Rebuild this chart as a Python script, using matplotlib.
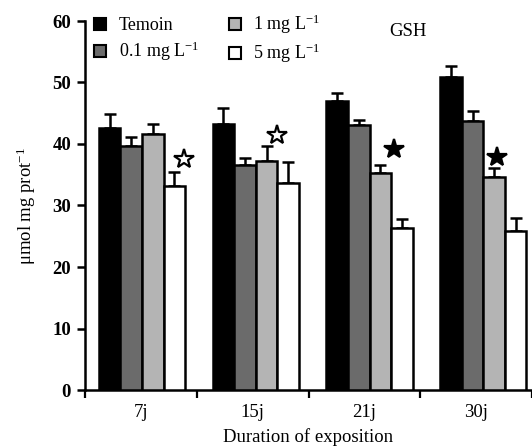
import matplotlib
matplotlib.use("Agg")
import matplotlib.pyplot as plt
from matplotlib.patches import Patch
import numpy as np

plt.rcParams['font.family'] = ['Liberation Serif', 'DejaVu Serif']
plt.rcParams['mathtext.fontset'] = 'custom'
plt.rcParams['mathtext.rm'] = 'Liberation Serif'
plt.rcParams['mathtext.it'] = 'Liberation Serif:italic'
plt.rcParams['mathtext.bf'] = 'Liberation Serif:bold'

# ---- data ----
groups = ["7j", "15j", "21j", "30j"]
series = ["Temoin", "0.1 mg L$^{-1}$", "1 mg L$^{-1}$", "5 mg L$^{-1}$"]
temoin = [42.6, 43.3, 47.0, 50.9]
temoin_err = [2.3, 2.6, 1.3, 1.8]
c01 = [39.7, 36.6, 43.1, 43.7]
c01_err = [1.4, 1.1, 0.8, 1.7]
c1 = [41.6, 37.2, 35.3, 34.6]
c1_err = [1.7, 2.5, 1.3, 1.5]
c5 = [33.2, 33.7, 26.3, 25.9]
c5_err = [2.2, 3.4, 1.5, 2.1]
# significance stars: (group index, bar index, y value, filled)
star_group = [0, 1, 2, 3]
star_bar = [3, 2, 2, 2]
star_y = [37.6, 41.5, 39.2, 37.9]
star_filled = [False, False, True, True]

values = [temoin, c01, c1, c5]
errors = [temoin_err, c01_err, c1_err, c5_err]
colors = ["#000000", "#6b6b6b", "#b4b4b4", "#ffffff"]

# layout / style
w = 0.1925
shift = 0.01
spread = 1.018
star_dx = [0.47, 0.47, 0.65, 0.15]  # in bar widths, relative to bar centre

fig = plt.figure(figsize=(5.32, 4.48), dpi=100)
ax = fig.add_axes([85/532, 58/448, 1 - 85/532, (390-21)/448])

x = np.arange(len(groups))
centers = shift + spread * x
for i, (vals, errs, col) in enumerate(zip(values, errors, colors)):
    pos = centers + (i - 1.5) * w
    ax.bar(pos, vals, width=w, color=col, edgecolor="black", linewidth=1.8, zorder=3)
    ax.errorbar(pos, vals, yerr=[np.zeros(len(vals)), errs], fmt="none",
                ecolor="black", elinewidth=1.8, capsize=4.5, capthick=1.8, zorder=2)

for g, b, yv, filled, dx in zip(star_group, star_bar, star_y, star_filled, star_dx):
    px = centers[g] + (b - 1.5) * w + dx * w
    ax.plot(px, yv, marker="*", markersize=15, markeredgecolor="black",
            markerfacecolor="black" if filled else "white", markeredgewidth=1.6,
            linestyle="none", zorder=4)

ax.set_xlim(-0.5, 3.5)
ax.set_ylim(0, 60)
ax.set_yticks([0, 10, 20, 30, 40, 50, 60])
ax.set_xticks([-0.5, 0.5, 1.5, 2.5, 3.5])
ax.set_xticklabels([])
ax.set_xticks(x, minor=True)
ax.set_xticklabels(groups, minor=True, fontsize=13.5)
ax.tick_params(axis="x", which="minor", length=0, pad=10)
ax.tick_params(axis="x", which="major", length=5.5, width=1.6, direction="out")
ax.tick_params(axis="y", length=5.5, width=1.8, direction="out", pad=4.5)
for lab in ax.get_yticklabels():
    lab.set_fontsize(13.5)
    lab.set_fontweight("bold")

for s in ["top", "right"]:
    ax.spines[s].set_visible(False)
for s in ["left", "bottom"]:
    ax.spines[s].set_linewidth(1.8)

ax.set_xlabel("Duration of exposition", fontsize=13.5, labelpad=5)
ax.set_ylabel(r"$\mathrm{\mu}$mol mg prot$^{-1}$", fontsize=13.5, labelpad=10)

handles = [Patch(facecolor=c, edgecolor="black", linewidth=1.5) for c in colors]
ax.legend(handles, series, ncol=2, loc="upper left", bbox_to_anchor=(0.005, 1.042),
          frameon=False, fontsize=13, handlelength=0.65, handleheight=0.65,
          handletextpad=0.7, columnspacing=1.65, labelspacing=0.3, borderaxespad=0)

ax.text(0.722, 0.995, "GSH", transform=ax.transAxes, fontsize=13.5, ha="center", va="top")

fig.savefig("out.png", dpi=100)
